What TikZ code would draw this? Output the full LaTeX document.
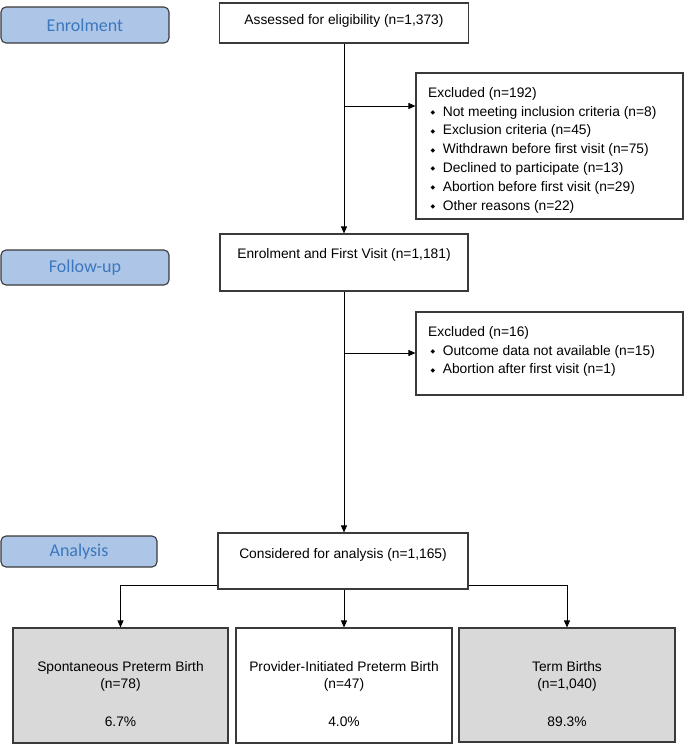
\documentclass[tikz,border=0pt]{standalone}
\usepackage{fontspec}
\setmainfont{Liberation Sans}
\newfontfamily\calib{Carlito}
\newfontfamily\dejavu{DejaVu Sans}
\usetikzlibrary{arrows.meta}
\definecolor{lblfill}{HTML}{ADC5E7}
\definecolor{lbltext}{HTML}{3B78BD}
\definecolor{boxgray}{HTML}{D9D9D9}
\definecolor{edge}{HTML}{3A3A3A}
\newcommand{\bul}{\hspace*{2.5pt}{\dejavu\fontsize{6}{6}\selectfont\raisebox{1.5pt}{◆}}\hspace{7.5pt}}
\tikzset{
  mainbox/.style={draw=edge, line width=1.1pt, fill=white, inner sep=0pt},
  graybox/.style={mainbox, fill=boxgray},
  stagebox/.style={draw=edge, line width=1.1pt, fill=lblfill, rounded corners=5pt, inner sep=0pt,
     text=lbltext, font=\calib\fontsize{18}{20}\selectfont},
  boxtext/.style={inner sep=0pt, font=\fontsize{13.8}{17}\selectfont},
  listtext/.style={inner sep=0pt, anchor=north west, align=left, font=\fontsize{13.8}{18.8}\selectfont},
  conn/.style={draw=black, line width=0.9pt},
  arr/.style={conn, -{Triangle[length=7pt,width=6pt]}}
}
\begin{document}
\begin{tikzpicture}[x=1pt,y=-1pt]
\useasboundingbox (0,0) rectangle (685,753);
% stage labels
\node[stagebox, minimum width=168pt, minimum height=36pt] (lEnrol) at (85,25) {Enrolment};
\node[stagebox, minimum width=168pt, minimum height=35pt] (lFollow) at (85,267.5) {Follow-up};
\node[stagebox, minimum width=156pt, minimum height=31pt] (lAnal) at (79,551.5) {Analysis};
% main boxes
\node[mainbox, minimum width=249pt, minimum height=40pt] (assess) at (344,23) {};
\node[boxtext, anchor=base] (tassess) at (344,24) {Assessed for eligibility (n=1,373)};
\node[mainbox, minimum width=248pt, minimum height=57pt] (enrol) at (344,262.5) {};
\node[boxtext, anchor=base] (tenrol) at (344,258) {Enrolment and First Visit (n=1,181)};
\node[mainbox, minimum width=250pt, minimum height=56pt] (consid) at (343,561) {};
\node[boxtext, anchor=base] (tconsid) at (343,558) {Considered for analysis (n=1,165)};
% excluded boxes
\node[mainbox, minimum width=267pt, minimum height=146pt] (ex1) at (549.5,146) {};
\node[listtext] (tex1) at (428,87) {Excluded (n=192)\\
\bul Not meeting inclusion criteria (n=8)\\
\bul Exclusion criteria (n=45)\\
\bul Withdrawn before first visit (n=75)\\
\bul Declined to participate (n=13)\\
\bul Abortion before first visit (n=29)\\
\bul Other reasons (n=22)};
\node[mainbox, minimum width=267pt, minimum height=83pt] (ex2) at (549.5,353.5) {};
\node[listtext] (tex2) at (428,326) {Excluded (n=16)\\
\bul Outcome data not available (n=15)\\
\bul Abortion after first visit (n=1)};
% outcome boxes
\node[graybox, minimum width=215pt, minimum height=115pt] (spb) at (120.5,685.5) {};
\node[boxtext, anchor=north, align=center] (tspb) at (120.5,661.5) {Spontaneous Preterm Birth\\(n=78)\\[21pt]6.7\%};
\node[mainbox, minimum width=216pt, minimum height=115pt] (pipb) at (344,685.5) {};
\node[boxtext, anchor=north, align=center] (tpipb) at (344,661.5) {Provider-Initiated Preterm Birth\\(n=47)\\[21pt]4.0\%};
\node[graybox, minimum width=216pt, minimum height=114pt] (term) at (567,685) {};
\node[boxtext, anchor=north, align=center] (tterm) at (567,661.5) {Term Births\\(n=1,040)\\[21pt]89.3\%};
% connectors
\coordinate (b1) at (344,106);
\coordinate (b2) at (344,353);
\coordinate (row) at (0,585);
\draw[arr] (assess.south) -- (enrol.north);
\draw[arr] (b1) -- (b1 -| ex1.west);
\draw[arr] (enrol.south) -- (enrol.south |- consid.north);
\draw[arr] (b2) -- (b2 -| ex2.west);
\draw[arr] (consid.west |- row) -| (spb.north);
\draw[arr] (pipb.north |- consid.south) -- (pipb.north);
\draw[arr] (consid.east |- row) -| (term.north);
\end{tikzpicture}
\end{document}
